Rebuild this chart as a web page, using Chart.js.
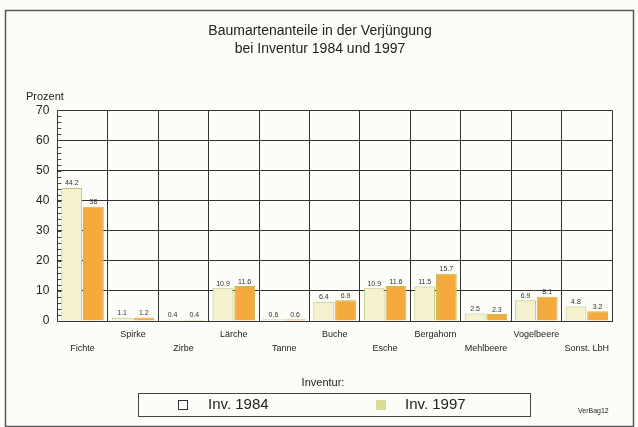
<!DOCTYPE html>
<html>
<head>
<meta charset="utf-8">
<script src="https://cdn.jsdelivr.net/npm/chart.js@4.4.0/dist/chart.umd.min.js"></script>
<style>
  html, body { margin: 0; padding: 0; background: #fcfcf8; }
  #wrap { position: relative; width: 638px; height: 427px; }
</style>
</head>
<body>
<div id="wrap"><canvas id="chart" width="638" height="427"></canvas></div>
<script>
const CATEGORIES = ['Fichte', 'Spirke', 'Zirbe', 'Lärche', 'Tanne', 'Buche', 'Esche', 'Bergahorn', 'Mehlbeere', 'Vogelbeere', 'Sonst. LbH'];
const INV_1984 = [44.2, 1.1, 0.4, 10.9, 0.6, 6.4, 10.9, 11.5, 2.5, 6.9, 4.8];
const INV_1997 = [38, 1.2, 0.4, 11.6, 0.6, 6.9, 11.6, 15.7, 2.3, 8.1, 3.2];
const SERIES_LABELS = ['Inv. 1984', 'Inv. 1997'];
const Y_TICKS = [0, 10, 20, 30, 40, 50, 60, 70];

const font = 'Liberation Sans, Arial, sans-serif';

// frame, legend box, captions, value labels, minor ticks
const extras = {
    id: 'extras',
    afterDraw(chart) {
        const ctx = chart.ctx;
        const y = chart.scales.y;
        const area = chart.chartArea;
        ctx.save();

        // outer frame
        ctx.strokeStyle = '#555';
        ctx.lineWidth = 1.5;
        ctx.strokeRect(5.5, 10.5, 628, 416);

        // minor ticks on left edge
        ctx.strokeStyle = '#444';
        ctx.lineWidth = 1;
        for (let v = 0; v <= 70; v += 2) {
            const py = Math.round(y.getPixelForValue(v)) + 0.5;
            ctx.beginPath();
            ctx.moveTo(area.left, py);
            ctx.lineTo(area.left + 4, py);
            ctx.stroke();
        }

        // "Prozent"
        ctx.fillStyle = '#222';
        ctx.font = '11px ' + font;
        ctx.textAlign = 'left';
        ctx.textBaseline = 'middle';
        ctx.fillText('Prozent', 26, 97);

        // value labels
        ctx.font = '7px ' + font;
        ctx.textAlign = 'center';
        ctx.textBaseline = 'bottom';
        ctx.fillStyle = '#333';
        chart.data.datasets.forEach((ds, i) => {
            chart.getDatasetMeta(i).data.forEach((bar, j) => {
                ctx.fillText(String(ds.data[j]), bar.x, bar.y - 1);
            });
        });

        // legend
        ctx.font = '11px ' + font;
        ctx.fillStyle = '#222';
        ctx.textBaseline = 'middle';
        ctx.fillText('Inventur:', 323, 383);
        ctx.strokeStyle = '#444';
        ctx.lineWidth = 1;
        ctx.strokeRect(138.5, 393.5, 392, 23);
        const items = [{ x: 178, tx: 208 }, { x: 376, tx: 405 }];
        chart.data.datasets.forEach((ds, i) => {
            const it = items[i];
            ctx.fillStyle = i === 0 ? '#ffffff' : '#d7dc9a';
            ctx.fillRect(it.x, 400, 10, 10);
            if (i === 0) {
                ctx.strokeStyle = '#333';
                ctx.strokeRect(it.x + 0.5, 400.5, 9, 9);
            }
            ctx.fillStyle = '#222';
            ctx.font = '15px ' + font;
            ctx.textAlign = 'left';
            ctx.fillText(ds.label, it.tx, 405);
        });

        ctx.font = '7px ' + font;
        ctx.fillText('VerBag12', 578, 411);
        ctx.restore();
    }
};

new Chart(document.getElementById('chart'), {
    type: 'bar',
    data: {
        labels: CATEGORIES,
        datasets: [
            {
                label: SERIES_LABELS[0],
                data: INV_1984,
                backgroundColor: '#f5f3cf',
                borderColor: '#b9c47c',
                borderWidth: 1
            },
            {
                label: SERIES_LABELS[1],
                data: INV_1997,
                backgroundColor: '#f4aa3c',
                borderColor: '#c9bb4e',
                borderWidth: 1
            }
        ]
    },
    options: {
        responsive: false,
        animation: false,
        layout: { padding: { left: 28, right: 26, top: 0, bottom: 65 } },
        categoryPercentage: 0.86,
        barPercentage: 0.96,
        plugins: {
            legend: { display: false },
            tooltip: { enabled: false },
            title: {
                display: true,
                text: ['Baumartenanteile in der Verjüngung', 'bei Inventur 1984 und 1997'],
                color: '#222',
                font: { family: font, size: 14, weight: 'normal', lineHeight: 1.3 },
                padding: { top: 22, bottom: 52 }
            }
        },
        scales: {
            x: {
                grid: { color: '#333', offset: true, drawTicks: false, lineWidth: 1 },
                border: { color: '#333' },
                ticks: {
                    autoSkip: false,
                    maxRotation: 0,
                    color: '#222',
                    padding: 7,
                    font: { family: font, size: 9, lineHeight: 1.5 },
                    callback: (v, i) => i % 2 === 0 ? ['', CATEGORIES[i]] : [CATEGORIES[i], '']
                }
            },
            y: {
                min: 0,
                max: 70,
                afterBuildTicks: (s) => { s.ticks = Y_TICKS.map(v => ({ value: v })); },
                grid: { color: '#333', drawTicks: false, lineWidth: 1 },
                border: { color: '#333' },
                ticks: {
                    color: '#222',
                    padding: 8,
                    font: { family: font, size: 12 }
                }
            }
        }
    },
    plugins: [extras]
});
</script>
</body>
</html>
